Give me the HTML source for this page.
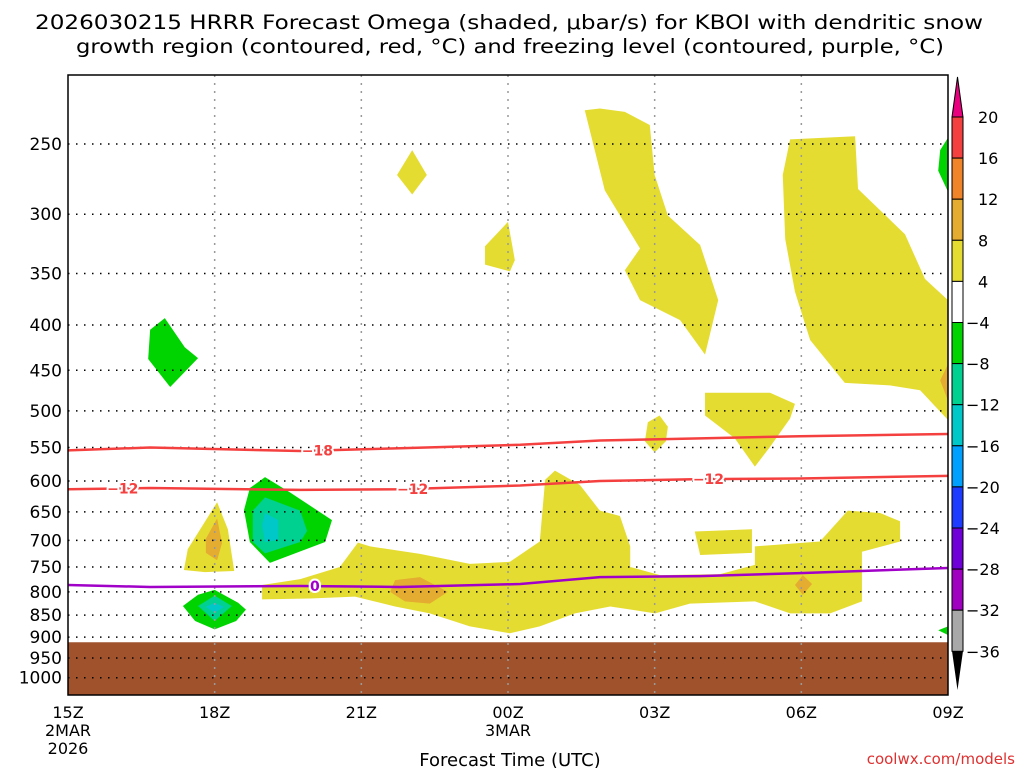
<!DOCTYPE html>
<html><head><meta charset="utf-8"><style>
body{margin:0;background:#fff;width:1024px;height:768px;overflow:hidden}
svg text{font-family:"DejaVu Sans","Liberation Sans",sans-serif}
</style></head><body>
<svg id="c" width="1024" height="768" xmlns="http://www.w3.org/2000/svg">
<text x="509" y="29" text-anchor="middle" font-size="19.5" textLength="948" lengthAdjust="spacingAndGlyphs">2026030215 HRRR Forecast Omega (shaded, μbar/s) for KBOI with dendritic snow</text>
<text x="510" y="53" text-anchor="middle" font-size="19.5" textLength="868" lengthAdjust="spacingAndGlyphs">growth region (contoured, red, °C) and freezing level (contoured, purple, °C)</text>
<g id="shade"></g><g id="grid"></g><g id="lines"></g><g id="axes"></g><g id="cbar"></g>
<text x="510" y="766" text-anchor="middle" font-size="18">Forecast Time (UTC)</text>
<text x="1015" y="764" text-anchor="end" font-size="15" fill="#e03030">coolwx.com/models</text>
</svg>
<script>
const NS='http://www.w3.org/2000/svg';
const pLevels=[250,300,350,400,450,500,550,600,650,700,750,800,850,900,950,1000];
const xHours=[0,3,6,9,12,15,18];
const xLabels=['15Z','18Z','21Z','00Z','03Z','06Z','09Z'];
const cbLevels=[20,16,12,8,4,-4,-8,-12,-16,-20,-24,-28,-32,-36];
const cbColors=['#f54040','#f08428','#e4ac30','#e5dc32','#ffffff','#00d400','#00d090','#00c8c8','#00a0ff','#1e3cff','#7000d8','#a000c0','#a8a8a8'];
const Y='#e5dc32',O='#e4ac30',G='#00d400',T='#00d090',C='#00c8c8';
const regions=[
[Y,[[10.88,228],[11.39,230],[11.9,238],[12.0,271],[12.27,301],[12.93,325],[13.3,375],[13.03,432],[12.52,395],[11.7,375],[11.39,347],[11.7,328],[10.98,282],[10.57,229]]],
[Y,[[14.77,247],[16.1,245],[16.16,281],[17.12,316],[17.53,355],[18,375],[18,512],[17.43,474],[16.81,468],[15.89,465],[15.18,416],[14.87,367],[14.67,320],[14.62,271]]],
[O,[[18,443],[17.84,462],[18,487]]],
[Y,[[7.04,254],[7.34,271],[7.04,285],[6.73,271]]],
[Y,[[8.53,326],[9.0,306],[9.14,338],[9.04,348],[8.53,342]]],
[G,[[1.68,405],[1.98,393],[2.39,424],[2.66,436],[2.09,470],[1.64,437]]],
[Y,[[11.86,515],[12.1,506],[12.27,521],[12.23,541],[12.0,557],[11.8,541]]],
[Y,[[13.03,477],[14.36,477],[14.87,491],[14.77,510],[14.36,549],[14.05,578],[13.64,537],[13.03,506]]],
[G,[[18,246],[17.84,254],[17.8,268],[18,283]]],
[G,[[18,875],[17.8,884],[18,895]]],
[Y,[[3.05,634],[3.27,680],[3.4,758],[2.8,760],[2.37,756],[2.45,716]]],
[O,[[3.05,661],[3.15,705],[3.05,737],[2.82,723],[2.82,697]]],
[G,[[4.03,594],[4.54,618],[5.4,664],[5.26,703],[4.13,742],[3.72,703],[3.6,647],[3.72,611]]],
[T,[[4.03,626],[4.75,648],[4.89,683],[4.75,703],[4.03,724],[3.78,703],[3.78,648]]],
[C,[[4.03,652],[4.3,664],[4.3,699],[4.03,703],[3.97,673]]],
[G,[[3.0,796],[3.48,823],[3.64,838],[3.44,863],[3.0,882],[2.6,863],[2.35,830],[2.66,806]]],
[T,[[3.0,808],[3.35,830],[3.0,863],[2.66,830]]],
[C,[[3.0,823],[3.19,832],[3.0,845],[2.82,832]]],
[Y,[[3.97,786],[4.75,774],[5.56,750],[5.93,704],[6.18,711],[7.2,725],[8.22,744],[9.04,740],[9.65,702],[9.76,598],[9.96,584],[10.47,606],[10.88,648],[11.29,657],[11.5,711],[11.5,750],[12.11,766],[13.34,764],[14.05,746],[14.05,711],[15.38,702],[15.95,648],[16.61,652],[17.02,666],[17.02,702],[16.24,721],[16.24,820],[15.59,846],[14.77,846],[14.05,820],[12.72,825],[12.01,846],[11.09,831],[10.37,846],[9.65,875],[9.04,891],[8.22,875],[7.4,846],[6.69,831],[5.87,810],[4.95,814],[3.97,816]]],
[Y,[[12.82,684],[13.99,680],[13.99,723],[12.93,727]]],
[O,[[6.69,776],[7.2,770],[7.77,800],[7.4,825],[6.89,820],[6.59,800]]],
[O,[[15.03,766],[15.22,784],[15.03,806],[14.87,786]]]
];
const lineHours=[0,1.68,4.75,6.79,9.25,10.88,12.93,14.97,18];
const m18P=[554,550,555,551,546,540,537,534,531];
const m12P=[613,611,614,613,607,600,597,596,592];
const zeroP=[786,790,788,790,784,770,768,762,752];
const X0=68,X1=948,YTOP=75,YBOT=695;
const xs=h=>X0+h*(X1-X0)/18;
const ys=p=>144+385*Math.log(p/250);
const S=document.getElementById('c');
function el(t,a,parent){const e=document.createElementNS(NS,t);for(const k in a)e.setAttribute(k,a[k]);(parent||S).appendChild(e);return e;}
const gS=document.getElementById('shade'),gG=document.getElementById('grid'),gL=document.getElementById('lines'),gA=document.getElementById('axes'),gC=document.getElementById('cbar');
regions.forEach((r,i)=>{
 const e=el('polygon',{points:r[1].map(q=>xs(q[0])+','+ys(q[1])).join(' '),fill:r[0]},gS);
 
 
});
const gr=el('rect',{x:X0,y:ys(912),width:X1-X0,height:YBOT-ys(912),fill:'#a0522d'},gS);


pLevels.forEach(p=>{
 const y=ys(p);
 const l=el('line',{x1:X0,x2:X1,y1:y,y2:y,stroke:'#000','stroke-width':1.5,'stroke-dasharray':'1.5 6.5'},gG);
 
 
 const t=el('text',{x:62,y:y+6,'text-anchor':'end','font-size':17},gA);t.textContent=p;
 
 
});
xHours.forEach((h,i)=>{
 const x=xs(h);
 if(i>0&&i<6){const l=el('line',{x1:x,x2:x,y1:YTOP,y2:YBOT,stroke:'#999','stroke-width':1.5,'stroke-dasharray':'2 6'},gG);
 
 }
 const t=el('text',{x:x,y:718,'text-anchor':'middle','font-size':16},gA);t.textContent=xLabels[i];
 
 
});
[['2MAR',736,0],['2026',754,0],['3MAR',736,9]].forEach(a=>{const t=el('text',{x:xs(a[2]),y:a[1],'text-anchor':'middle','font-size':16},gA);t.textContent=a[0];
 
 });
const fr=el('rect',{x:X0,y:YTOP,width:X1-X0,height:YBOT-YTOP,fill:'none',stroke:'#000','stroke-width':1.5},gA);


function cline(P,col,name,labels){
 const d=lineHours.map((h,i)=>(i?'L':'M')+xs(h)+','+ys(P[i])).join(' ');
 const e=el('path',{d:d,fill:'none',stroke:col,'stroke-width':2.5},gL);
 
 
 labels.forEach(h=>{
  let k=0;while(k<lineHours.length-2&&lineHours[k+1]<h)k++;
  const f=(h-lineHours[k])/(lineHours[k+1]-lineHours[k]);const p=P[k]+f*(P[k+1]-P[k]);
  const t=el('text',{x:xs(h),y:ys(p)+5,'text-anchor':'middle','font-size':14,'font-weight':'bold',fill:col,stroke:'#fff','stroke-width':4,'paint-order':'stroke','stroke-linejoin':'round'},gL);
  t.textContent=name.startsWith('freezing')?'0':(name.includes('18')?'−18':'−12');
  
  
 });
}
cline(m18P,'#f54040','isotherm-minus18',[5.1]);
cline(m12P,'#f54040','isotherm-minus12',[1.12,7.05,13.1]);
cline(zeroP,'#a000c8','freezing-level',[5.05]);
const cbYi=i=>117+i*41.1;
cbColors.forEach((c,i)=>{
 const r=el('rect',{x:952,y:cbYi(i),width:11,height:41.1,fill:c,stroke:'#000','stroke-width':1},gC);
 
 
});
const tu=el('polygon',{points:'952,117 963,117 957.5,77',fill:'#e8007f',stroke:'#000'},gC);


const td=el('polygon',{points:'952,651 963,651 957.5,690',fill:'#000'},gC);


cbLevels.forEach((v,i)=>{
 const t=el('text',{x:v<0?966:978,y:cbYi(i)+6,'font-size':16},gC);t.textContent=v<0?'−'+(-v):v;
 
 
});
</script>
</body></html>
